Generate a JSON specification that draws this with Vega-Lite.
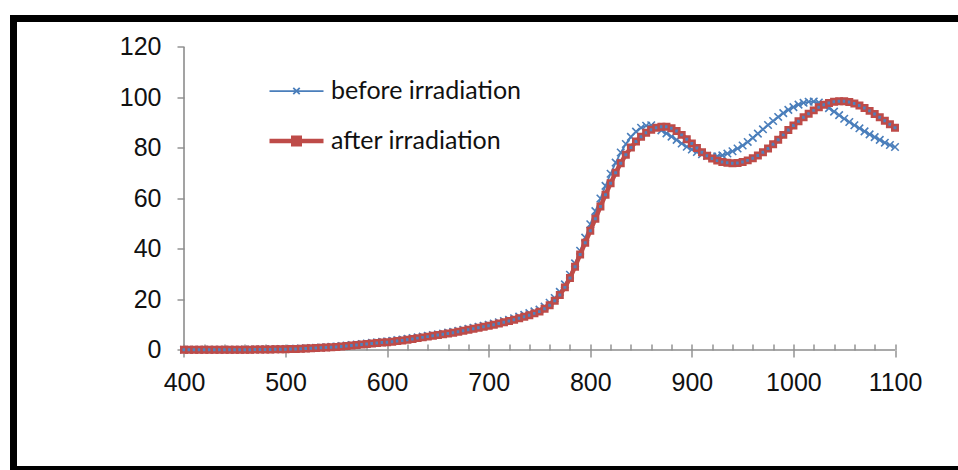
{
  "$schema": "https://vega.github.io/schema/vega-lite/v6.json",
  "width": 944.5,
  "height": 451,
  "autosize": {"type": "none"},
  "padding": {"left": 13.5, "top": 18.5, "right": 0, "bottom": 0.5},
  "background": "white",
  "config": {"view": {"stroke": "#000000", "strokeWidth": 7, "strokeDash": [948, 444, 3000]}, "font": "Liberation Sans"},
  "datasets": {
    "before": [
      {"nm":400,"T":0.1},{"nm":405,"T":0.1},{"nm":410,"T":0.1},{"nm":415,"T":0.1},{"nm":420,"T":0.1},{"nm":425,"T":0.1},{"nm":430,"T":0.1},{"nm":435,"T":0.1},{"nm":440,"T":0.1},{"nm":445,"T":0.1},
      {"nm":450,"T":0.1},{"nm":455,"T":0.1},{"nm":460,"T":0.2},{"nm":465,"T":0.2},{"nm":470,"T":0.2},{"nm":475,"T":0.2},{"nm":480,"T":0.3},{"nm":485,"T":0.3},{"nm":490,"T":0.3},{"nm":495,"T":0.4},
      {"nm":500,"T":0.4},{"nm":505,"T":0.5},{"nm":510,"T":0.5},{"nm":515,"T":0.6},{"nm":520,"T":0.7},{"nm":525,"T":0.8},{"nm":530,"T":0.9},{"nm":535,"T":1.0},{"nm":540,"T":1.1},{"nm":545,"T":1.3},
      {"nm":550,"T":1.4},{"nm":555,"T":1.6},{"nm":560,"T":1.8},{"nm":565,"T":2.0},{"nm":570,"T":2.2},{"nm":575,"T":2.4},{"nm":580,"T":2.6},{"nm":585,"T":2.8},{"nm":590,"T":3.0},{"nm":595,"T":3.2},
      {"nm":600,"T":3.4},{"nm":605,"T":3.6},{"nm":610,"T":3.9},{"nm":615,"T":4.1},{"nm":620,"T":4.4},{"nm":625,"T":4.7},{"nm":630,"T":5.0},{"nm":635,"T":5.3},{"nm":640,"T":5.6},{"nm":645,"T":5.9},
      {"nm":650,"T":6.2},{"nm":655,"T":6.5},{"nm":660,"T":6.9},{"nm":665,"T":7.2},{"nm":670,"T":7.6},{"nm":675,"T":8.0},{"nm":680,"T":8.4},{"nm":685,"T":8.8},{"nm":690,"T":9.2},{"nm":695,"T":9.6},
      {"nm":700,"T":10.0},{"nm":705,"T":10.5},{"nm":710,"T":11.0},{"nm":715,"T":11.5},{"nm":720,"T":12.0},{"nm":725,"T":12.6},{"nm":730,"T":13.2},{"nm":735,"T":13.9},{"nm":740,"T":14.6},{"nm":745,"T":15.3},
      {"nm":750,"T":16.0},{"nm":755,"T":17.2},{"nm":760,"T":18.7},{"nm":765,"T":20.6},{"nm":770,"T":23.0},{"nm":775,"T":26.0},{"nm":780,"T":29.8},{"nm":785,"T":34.3},{"nm":790,"T":39.3},{"nm":795,"T":44.5},
      {"nm":800,"T":49.8},{"nm":805,"T":55.0},{"nm":810,"T":60.0},{"nm":815,"T":65.0},{"nm":820,"T":69.8},{"nm":825,"T":74.2},{"nm":830,"T":78.2},{"nm":835,"T":81.6},{"nm":840,"T":84.4},{"nm":845,"T":86.5},
      {"nm":850,"T":88.0},{"nm":855,"T":88.8},{"nm":860,"T":89.0},{"nm":865,"T":88.3},{"nm":870,"T":87.0},{"nm":875,"T":85.8},{"nm":880,"T":84.5},{"nm":885,"T":83.2},{"nm":890,"T":81.8},{"nm":895,"T":80.5},
      {"nm":900,"T":79.4},{"nm":905,"T":78.4},{"nm":910,"T":77.5},{"nm":915,"T":76.9},{"nm":920,"T":76.6},{"nm":925,"T":76.7},{"nm":930,"T":77.1},{"nm":935,"T":77.8},{"nm":940,"T":78.7},{"nm":945,"T":79.8},
      {"nm":950,"T":81.0},{"nm":955,"T":82.4},{"nm":960,"T":84.0},{"nm":965,"T":85.7},{"nm":970,"T":87.4},{"nm":975,"T":89.1},{"nm":980,"T":90.7},{"nm":985,"T":92.3},{"nm":990,"T":93.8},{"nm":995,"T":95.1},
      {"nm":1000,"T":96.2},{"nm":1005,"T":97.2},{"nm":1010,"T":97.9},{"nm":1015,"T":98.3},{"nm":1020,"T":98.4},{"nm":1025,"T":98.0},{"nm":1030,"T":97.0},{"nm":1035,"T":95.8},{"nm":1040,"T":94.4},{"nm":1045,"T":93.0},
      {"nm":1050,"T":91.6},{"nm":1055,"T":90.3},{"nm":1060,"T":89.0},{"nm":1065,"T":87.8},{"nm":1070,"T":86.6},{"nm":1075,"T":85.4},{"nm":1080,"T":84.3},{"nm":1085,"T":83.2},{"nm":1090,"T":82.1},{"nm":1095,"T":81.2},
      {"nm":1100,"T":80.4}
    ],
    "after": [
      {"nm":400,"T":0.1},{"nm":405,"T":0.1},{"nm":410,"T":0.1},{"nm":415,"T":0.1},{"nm":420,"T":0.1},{"nm":425,"T":0.1},{"nm":430,"T":0.1},{"nm":435,"T":0.1},{"nm":440,"T":0.1},{"nm":445,"T":0.1},
      {"nm":450,"T":0.1},{"nm":455,"T":0.1},{"nm":460,"T":0.1},{"nm":465,"T":0.1},{"nm":470,"T":0.2},{"nm":475,"T":0.2},{"nm":480,"T":0.2},{"nm":485,"T":0.2},{"nm":490,"T":0.3},{"nm":495,"T":0.3},
      {"nm":500,"T":0.3},{"nm":505,"T":0.4},{"nm":510,"T":0.4},{"nm":515,"T":0.5},{"nm":520,"T":0.6},{"nm":525,"T":0.7},{"nm":530,"T":0.8},{"nm":535,"T":0.9},{"nm":540,"T":1.0},{"nm":545,"T":1.1},
      {"nm":550,"T":1.2},{"nm":555,"T":1.4},{"nm":560,"T":1.6},{"nm":565,"T":1.8},{"nm":570,"T":2.0},{"nm":575,"T":2.2},{"nm":580,"T":2.4},{"nm":585,"T":2.6},{"nm":590,"T":2.8},{"nm":595,"T":3.0},
      {"nm":600,"T":3.1},{"nm":605,"T":3.3},{"nm":610,"T":3.6},{"nm":615,"T":3.8},{"nm":620,"T":4.1},{"nm":625,"T":4.4},{"nm":630,"T":4.7},{"nm":635,"T":5.0},{"nm":640,"T":5.3},{"nm":645,"T":5.6},
      {"nm":650,"T":5.9},{"nm":655,"T":6.2},{"nm":660,"T":6.5},{"nm":665,"T":6.8},{"nm":670,"T":7.2},{"nm":675,"T":7.6},{"nm":680,"T":8.0},{"nm":685,"T":8.4},{"nm":690,"T":8.8},{"nm":695,"T":9.2},
      {"nm":700,"T":9.6},{"nm":705,"T":10.0},{"nm":710,"T":10.5},{"nm":715,"T":11.0},{"nm":720,"T":11.5},{"nm":725,"T":12.0},{"nm":730,"T":12.6},{"nm":735,"T":13.2},{"nm":740,"T":13.8},{"nm":745,"T":14.5},
      {"nm":750,"T":15.2},{"nm":755,"T":16.3},{"nm":760,"T":17.7},{"nm":765,"T":19.5},{"nm":770,"T":21.8},{"nm":775,"T":24.8},{"nm":780,"T":28.5},{"nm":785,"T":33.0},{"nm":790,"T":37.8},{"nm":795,"T":42.5},
      {"nm":800,"T":47.2},{"nm":805,"T":52.0},{"nm":810,"T":56.8},{"nm":815,"T":61.5},{"nm":820,"T":66.0},{"nm":825,"T":70.2},{"nm":830,"T":74.0},{"nm":835,"T":77.3},{"nm":840,"T":80.2},{"nm":845,"T":82.6},
      {"nm":850,"T":84.5},{"nm":855,"T":86.0},{"nm":860,"T":87.2},{"nm":865,"T":88.0},{"nm":870,"T":88.4},{"nm":875,"T":88.4},{"nm":880,"T":87.8},{"nm":885,"T":86.7},{"nm":890,"T":85.2},{"nm":895,"T":83.5},
      {"nm":900,"T":81.8},{"nm":905,"T":80.0},{"nm":910,"T":78.3},{"nm":915,"T":76.9},{"nm":920,"T":75.8},{"nm":925,"T":75.0},{"nm":930,"T":74.5},{"nm":935,"T":74.2},{"nm":940,"T":74.0},{"nm":945,"T":74.1},
      {"nm":950,"T":74.5},{"nm":955,"T":75.1},{"nm":960,"T":75.9},{"nm":965,"T":77.0},{"nm":970,"T":78.3},{"nm":975,"T":79.8},{"nm":980,"T":81.5},{"nm":985,"T":83.3},{"nm":990,"T":85.2},{"nm":995,"T":87.1},
      {"nm":1000,"T":88.9},{"nm":1005,"T":90.6},{"nm":1010,"T":92.2},{"nm":1015,"T":93.6},{"nm":1020,"T":94.9},{"nm":1025,"T":96.1},{"nm":1030,"T":97.1},{"nm":1035,"T":97.8},{"nm":1040,"T":98.3},{"nm":1045,"T":98.5},
      {"nm":1050,"T":98.5},{"nm":1055,"T":98.2},{"nm":1060,"T":97.6},{"nm":1065,"T":96.8},{"nm":1070,"T":95.8},{"nm":1075,"T":94.7},{"nm":1080,"T":93.5},{"nm":1085,"T":92.2},{"nm":1090,"T":90.8},{"nm":1095,"T":89.4},
      {"nm":1100,"T":88.0}
    ]
  },
  "layer": [
    {
      "data": {"values": [{}]},
      "mark": {"type": "rule", "color": "#8c8c8c", "strokeWidth": 1.6},
      "encoding": {
        "x": {
          "datum": 400, "type": "quantitative",
          "scale": {"domain": [232.138, 1162.025], "nice": false, "zero": false},
          "axis": {"orient": "bottom", "offset": -119.5, "values": [400,420,440,460,480,500,520,540,560,580,600,620,640,660,680,700,720,740,760,780,800,820,840,860,880,900,920,940,960,980,1000,1020,1040,1060,1080,1100],
                   "tickSize": -6, "tickColor": "#8c8c8c", "tickWidth": 1.4, "labels": false, "domain": false, "grid": false, "title": null}
        },
        "x2": {"datum": 1100},
        "y": {
          "datum": 0, "type": "quantitative",
          "scale": {"domain": [-47.327, 131.287], "nice": false, "zero": false},
          "axis": {"orient": "left", "offset": -170.5, "values": [0,20,40,60,80,100,120], "tickSize": 7, "tickColor": "#8c8c8c", "tickWidth": 1.4,
                   "labelPadding": 16, "labelFontSize": 25, "labelColor": "#111111", "labelFont": "Liberation Sans", "format": "d", "domain": false, "grid": false, "title": null}
        }
      }
    },
    {
      "layer": [
        {
          "data": {"values": [{}]},
          "mark": {"type": "rule", "color": "#8c8c8c", "strokeWidth": 1.6},
          "encoding": {
            "x": {
              "datum": 400, "type": "quantitative",
              "scale": {"domain": [232.138, 1162.025], "nice": false, "zero": false},
              "axis": {"orient": "bottom", "offset": -119.5, "values": [400,500,600,700,800,900,1000,1100], "tickSize": 7, "tickColor": "#8c8c8c", "tickWidth": 1.4,
                       "labelPadding": 13, "labelFontSize": 25, "labelColor": "#111111", "labelFont": "Liberation Sans", "format": "d", "domain": false, "grid": false, "title": null}
            },
            "y": {"datum": 0, "type": "quantitative", "scale": {"domain": [-47.327, 131.287], "nice": false, "zero": false}},
            "y2": {"datum": 120}
          }
        },
        {
          "data": {"name": "before"},
          "mark": {"type": "line", "strokeWidth": 1.75},
          "encoding": {
            "x": {"field": "nm", "type": "quantitative", "scale": {"domain": [232.138, 1162.025], "nice": false, "zero": false}},
            "y": {"field": "T", "type": "quantitative", "scale": {"domain": [-47.327, 131.287], "nice": false, "zero": false}},
            "color": {
              "datum": "before irradiation",
              "scale": {"domain": ["before irradiation", "after irradiation"], "range": ["#4A7EBB", "#BE4B48"]},
              "legend": {
                "orient": "none", "legendX": 270.5, "legendY": 60, "title": null, "padding": 0,
                "symbolType": "M-1,0H1", "symbolSize": 2916, "symbolStrokeWidth": 2,
                "labelFont": "Lato", "labelFontSize": 25, "labelColor": "#111111", "labelOffset": 22, "labelLimit": 0, "rowPadding": 24,
                "encode": {
                  "symbols": {
                    "update": {
                      "shape": {"signal": "datum.value === 'before irradiation' ? 'M-1,0H1M-0.12,-0.12L0.12,0.12M-0.12,0.12L0.12,-0.12' : 'M-1,0H1M-0.12,-0.12H0.12V0.12H-0.12Z'"},
                      "strokeWidth": {"signal": "datum.value === 'before irradiation' ? 1.75 : 4.5"},
                      "fill": {"signal": "datum.value === 'before irradiation' ? 'transparent' : '#4F81BD'"},
                      "fillOpacity": {"value": 1},
                      "stroke": {"signal": "datum.value === 'before irradiation' ? '#4A7EBB' : '#BE4B48'"}
                    }
                  }
                }
              }
            }
          }
        },
        {
          "data": {"name": "before"},
          "mark": {"type": "point", "shape": "M-1,-1L1,1M-1,1L1,-1", "filled": false, "stroke": "#4A7EBB", "strokeWidth": 1.6, "size": 56, "opacity": 1},
          "encoding": {
            "x": {"field": "nm", "type": "quantitative", "scale": {"domain": [232.138, 1162.025], "nice": false, "zero": false}},
            "y": {"field": "T", "type": "quantitative", "scale": {"domain": [-47.327, 131.287], "nice": false, "zero": false}}
          }
        },
        {
          "data": {"name": "after"},
          "mark": {"type": "line", "strokeWidth": 4.5},
          "encoding": {
            "x": {"field": "nm", "type": "quantitative", "scale": {"domain": [232.138, 1162.025], "nice": false, "zero": false}},
            "y": {"field": "T", "type": "quantitative", "scale": {"domain": [-47.327, 131.287], "nice": false, "zero": false}},
            "color": {"datum": "after irradiation"}
          }
        },
        {
          "data": {"name": "after"},
          "mark": {"type": "point", "shape": "square", "filled": true, "fill": "#4F81BD", "stroke": "#BE4B48", "strokeWidth": 2.5, "size": 30, "opacity": 1},
          "encoding": {
            "x": {"field": "nm", "type": "quantitative", "scale": {"domain": [232.138, 1162.025], "nice": false, "zero": false}},
            "y": {"field": "T", "type": "quantitative", "scale": {"domain": [-47.327, 131.287], "nice": false, "zero": false}}
          }
        }
      ]
    }
  ],
  "resolve": {"scale": {"x": "independent"}, "axis": {"x": "independent"}}
}
